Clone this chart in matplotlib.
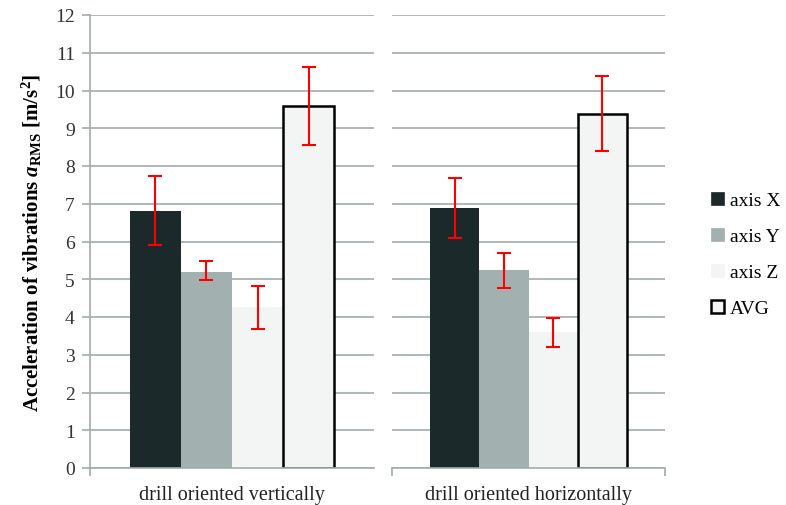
import numpy as np
import matplotlib
matplotlib.use("Agg")
import matplotlib.pyplot as plt
from matplotlib.patches import Patch

plt.rcParams['font.family'] = ['Liberation Serif', 'DejaVu Serif']
plt.rcParams['mathtext.fontset'] = 'custom'
plt.rcParams['mathtext.rm'] = 'Liberation Serif:bold'
plt.rcParams['mathtext.it'] = 'Liberation Serif:italic:bold'
plt.rcParams['mathtext.bf'] = 'Liberation Serif:bold'

# data
categories = ['drill oriented vertically', 'drill oriented horizontally']
series = ['axis X', 'axis Y', 'axis Z', 'AVG']
means = [
    [6.82, 5.20, 4.27, 9.60],   # vertical
    [6.88, 5.25, 3.59, 9.38],   # horizontal
]
err_low = [
    [5.90, 4.98, 3.68, 8.55],
    [6.10, 4.78, 3.21, 8.39],
]
err_high = [
    [7.74, 5.49, 4.81, 10.63],
    [7.67, 5.70, 3.97, 10.39],
]

colors = ['#1b292b', '#a2b1af', '#f3f4f4', '#f3f4f4']
edges = ['none', 'none', 'none', 'black']
grid_c = '#a3acab'

fig = plt.figure(figsize=(7.86, 5.06), dpi=100)
ax1 = fig.add_axes([90 / 786, 37 / 506, 284 / 786, 453 / 506])
ax2 = fig.add_axes([392 / 786, 37 / 506, 273 / 786, 453 / 506])

width = 0.18
offsets = (np.arange(4) - 1.5) * width

for k, ax in enumerate([ax1, ax2]):
    m = np.array(means[k])
    lo = m - np.array(err_low[k])
    hi = np.array(err_high[k]) - m
    for i in range(4):
        ax.bar(offsets[i], m[i], width, color=colors[i],
               edgecolor=edges[i], linewidth=1.8 if i == 3 else 0, zorder=2)
    ax.errorbar(offsets, m, yerr=[lo, hi], fmt='none', ecolor='red',
                elinewidth=1.5, capsize=4.8, capthick=1.5, zorder=3)

    ax.set_xlim(-0.5, 0.5)
    ax.set_ylim(0, 12)
    ax.set_yticks(range(0, 13))
    ax.yaxis.grid(True, color=grid_c, linewidth=1.2)
    ax.set_axisbelow(True)
    for s in ['top', 'right']:
        ax.spines[s].set_visible(False)
    ax.spines['bottom'].set_color(grid_c)
    ax.spines['bottom'].set_linewidth(1.2)
    ax.set_xticks([0])
    ax.set_xticklabels([categories[k]], fontsize=14.5)
    ax.tick_params(axis='x', which='major', length=0, pad=12, colors='#222222')
    ax.tick_params(axis='x', which='minor', length=6, color=grid_c, width=1.2)

ax1.spines['left'].set_color(grid_c)
ax1.spines['left'].set_linewidth(1.2)
ax1.set_xticks([-0.5], minor=True)
ax1.tick_params(axis='y', length=6, color=grid_c, width=1.2,
                labelsize=14, labelcolor='#333333', pad=5)
ax1.set_ylabel(r'Acceleration of vibrations $a_{\mathrm{RMS}}$ [m/s$^2$]',
               fontsize=15, fontweight='bold', labelpad=8)

ax2.spines['left'].set_visible(False)
ax2.set_xticks([-0.5, 0.5], minor=True)
ax2.tick_params(axis='y', length=0, labelleft=False)

handles = [Patch(facecolor=colors[i], edgecolor=edges[i] if i == 3 else colors[i],
                 linewidth=1.8 if i == 3 else 0.5) for i in range(4)]
fig.legend(handles, series, loc='center left', bbox_to_anchor=(0.882, 0.495),
           frameon=False, fontsize=14, handlelength=0.7, handleheight=0.7,
           handletextpad=0.3, labelspacing=0.95)

fig.savefig('out.png', dpi=100)
